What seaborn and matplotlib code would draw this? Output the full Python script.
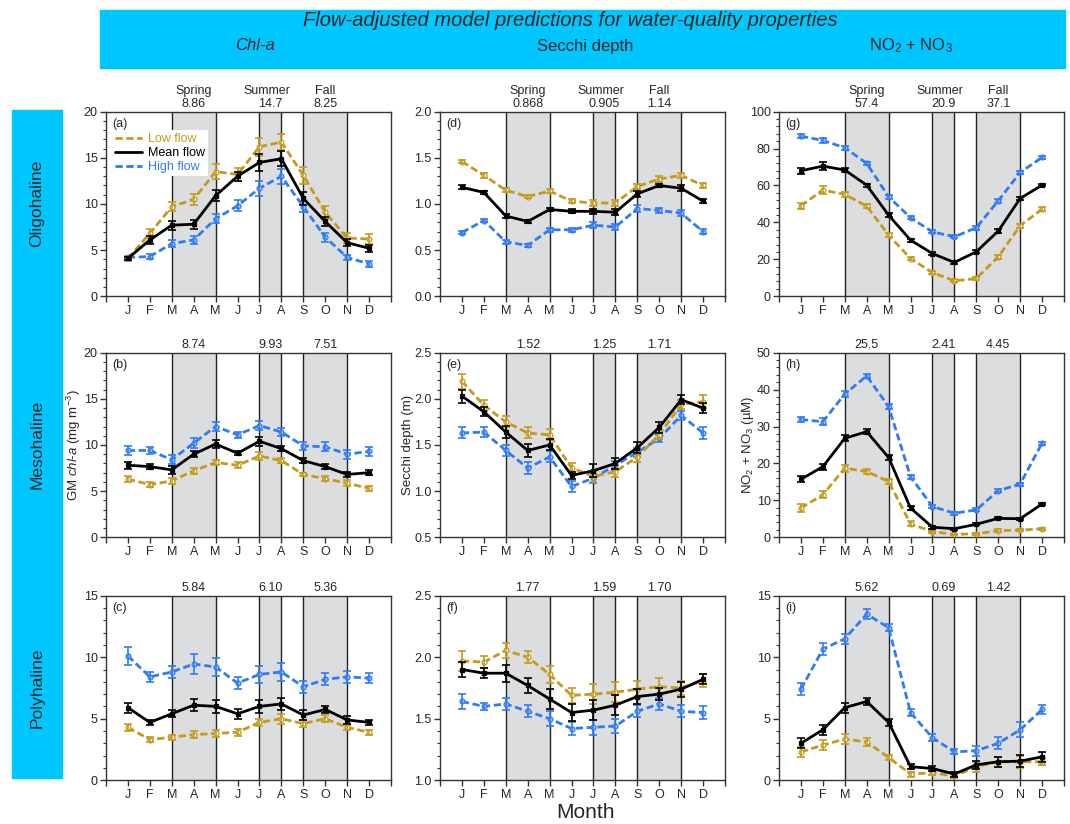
"""
Flow-adjusted model predictions for water-quality properties.
3x3 panels: Chl-a / Secchi depth / NO2+NO3 by salinity zone, monthly low/mean/high flow.
"""

import numpy as np
import matplotlib
matplotlib.use("Agg")
import matplotlib.pyplot as plt
import seaborn as sns
from matplotlib.lines import Line2D
from matplotlib.patches import Rectangle
from matplotlib.ticker import MultipleLocator, FormatStrFormatter, FixedLocator

sns.set_style("ticks")
plt.rcParams['font.family'] = ['Liberation Sans', 'DejaVu Sans']
plt.rcParams['mathtext.fontset'] = 'custom'
plt.rcParams['mathtext.rm'] = 'Liberation Sans'
plt.rcParams['mathtext.it'] = 'Liberation Sans:italic'

MONTHS = np.arange(1, 13)
MONTH_LABELS = ['J', 'F', 'M', 'A', 'M', 'J', 'J', 'A', 'S', 'O', 'N', 'D']
SEASONS = ['Spring', 'Summer', 'Fall']
ZONES = ['Oligohaline', 'Mesohaline', 'Polyhaline']

# ---- (a) Chl-a, oligohaline
a_low = [4.1, 6.8, 9.7, 10.5, 13.5, 13.2, 16.2, 16.7, 13.1, 9.1, 6.3, 6.2]
a_mean = [4.1, 6.1, 7.7, 7.8, 10.9, 13.0, 14.5, 14.9, 10.6, 8.1, 5.8, 5.2]
a_high = [4.2, 4.3, 5.7, 6.1, 8.4, 9.8, 11.7, 13.0, 9.7, 6.4, 4.2, 3.5]
a_low_err = [0.3, 0.5, 0.5, 0.6, 0.8, 0.7, 1.0, 0.9, 0.9, 0.7, 0.5, 0.5]
a_mean_err = [0.2, 0.4, 0.5, 0.5, 0.6, 0.5, 0.9, 0.8, 0.7, 0.5, 0.4, 0.4]
a_high_err = [0.2, 0.3, 0.4, 0.4, 0.5, 0.6, 0.8, 0.8, 0.6, 0.5, 0.3, 0.3]
a_season = ['8.86', '14.7', '8.25']

# ---- (b) Chl-a, mesohaline
b_low = [6.3, 5.7, 6.1, 7.2, 8.1, 7.8, 8.8, 8.3, 6.8, 6.35, 5.85, 5.3]
b_mean = [7.8, 7.65, 7.3, 9.0, 10.1, 9.1, 10.4, 9.6, 8.3, 7.65, 6.8, 7.0]
b_high = [9.4, 9.4, 8.4, 10.2, 12.0, 11.1, 12.1, 11.4, 9.9, 9.8, 9.0, 9.3]
b_low_err = [0.3, 0.3, 0.3, 0.3, 0.3, 0.3, 0.4, 0.3, 0.2, 0.3, 0.3, 0.3]
b_mean_err = [0.4, 0.3, 0.4, 0.3, 0.4, 0.2, 0.5, 0.3, 0.3, 0.3, 0.3, 0.3]
b_high_err = [0.5, 0.4, 0.5, 0.5, 0.5, 0.3, 0.5, 0.4, 0.4, 0.5, 0.5, 0.5]
b_season = ['8.74', '9.93', '7.51']

# ---- (c) Chl-a, polyhaline
c_low = [4.3, 3.3, 3.5, 3.7, 3.8, 3.9, 4.7, 5.0, 4.6, 5.0, 4.3, 3.9]
c_mean = [5.9, 4.7, 5.4, 6.1, 6.0, 5.4, 6.0, 6.2, 5.3, 5.75, 4.9, 4.7]
c_high = [10.1, 8.4, 8.8, 9.45, 9.2, 7.9, 8.6, 8.8, 7.6, 8.2, 8.4, 8.3]
c_low_err = [0.3, 0.2, 0.2, 0.3, 0.3, 0.3, 0.3, 0.4, 0.3, 0.3, 0.2, 0.2]
c_mean_err = [0.4, 0.2, 0.3, 0.5, 0.5, 0.4, 0.5, 0.5, 0.4, 0.3, 0.3, 0.2]
c_high_err = [0.7, 0.4, 0.5, 0.8, 0.7, 0.5, 0.7, 0.7, 0.5, 0.5, 0.5, 0.4]
c_season = ['5.84', '6.10', '5.36']

# ---- (d) Secchi, oligohaline
d_low = [1.46, 1.31, 1.15, 1.08, 1.14, 1.03, 1.01, 1.01, 1.19, 1.27, 1.31, 1.20]
d_mean = [1.18, 1.125, 0.87, 0.81, 0.94, 0.92, 0.92, 0.91, 1.11, 1.20, 1.17, 1.03]
d_high = [0.69, 0.82, 0.59, 0.55, 0.72, 0.72, 0.77, 0.75, 0.95, 0.93, 0.90, 0.70]
d_low_err = [0.02, 0.03, 0.02, 0.02, 0.02, 0.02, 0.03, 0.03, 0.03, 0.03, 0.03, 0.03]
d_mean_err = [0.02, 0.02, 0.02, 0.02, 0.02, 0.02, 0.03, 0.03, 0.03, 0.02, 0.03, 0.02]
d_high_err = [0.02, 0.02, 0.02, 0.02, 0.02, 0.02, 0.03, 0.03, 0.04, 0.03, 0.03, 0.03]
d_season = ['0.868', '0.905', '1.14']

# ---- (e) Secchi, mesohaline
e_low = [2.19, 1.93, 1.75, 1.63, 1.61, 1.25, 1.16, 1.21, 1.37, 1.61, 1.94, 1.97]
e_mean = [2.03, 1.86, 1.64, 1.44, 1.50, 1.17, 1.22, 1.30, 1.47, 1.69, 1.99, 1.90]
e_high = [1.63, 1.64, 1.44, 1.25, 1.37, 1.05, 1.14, 1.28, 1.42, 1.57, 1.82, 1.63]
e_low_err = [0.08, 0.06, 0.06, 0.06, 0.06, 0.05, 0.06, 0.06, 0.05, 0.05, 0.05, 0.07]
e_mean_err = [0.07, 0.05, 0.07, 0.07, 0.06, 0.04, 0.07, 0.06, 0.06, 0.06, 0.05, 0.05]
e_high_err = [0.06, 0.05, 0.06, 0.06, 0.06, 0.06, 0.05, 0.05, 0.05, 0.04, 0.05, 0.07]
e_season = ['1.52', '1.25', '1.71']

# ---- (f) Secchi, polyhaline
f_low = [1.97, 1.96, 2.055, 2.00, 1.86, 1.69, 1.70, 1.715, 1.74, 1.76, 1.75, 1.81]
f_mean = [1.90, 1.87, 1.87, 1.77, 1.66, 1.55, 1.57, 1.61, 1.68, 1.70, 1.74, 1.82]
f_high = [1.64, 1.60, 1.62, 1.56, 1.50, 1.42, 1.43, 1.44, 1.56, 1.62, 1.56, 1.55]
f_low_err = [0.08, 0.05, 0.06, 0.05, 0.07, 0.06, 0.08, 0.08, 0.07, 0.07, 0.06, 0.05]
f_mean_err = [0.06, 0.04, 0.07, 0.06, 0.08, 0.07, 0.08, 0.08, 0.06, 0.05, 0.06, 0.04]
f_high_err = [0.06, 0.03, 0.05, 0.05, 0.06, 0.05, 0.06, 0.06, 0.05, 0.05, 0.05, 0.05]
f_season = ['1.77', '1.59', '1.70']

# ---- (g) NO2+NO3, oligohaline
g_low = [49.0, 57.5, 55.2, 48.8, 33.1, 20.4, 12.8, 8.3, 9.6, 21.3, 38.2, 47.2]
g_mean = [68.0, 70.5, 68.4, 60.2, 43.9, 30.4, 23.1, 18.3, 24.1, 35.3, 53.0, 60.2]
g_high = [86.8, 84.4, 80.5, 72.0, 53.9, 42.5, 34.9, 32.2, 37.1, 51.7, 67.1, 75.2]
g_low_err = [1.5, 2.0, 1.2, 1.2, 1.2, 1.0, 1.0, 0.8, 0.8, 1.2, 1.2, 1.0]
g_mean_err = [1.5, 2.0, 1.2, 0.8, 1.2, 0.8, 0.8, 0.8, 0.8, 1.0, 0.8, 0.6]
g_high_err = [1.0, 1.5, 1.0, 1.0, 1.2, 0.8, 0.8, 0.8, 1.0, 1.2, 1.0, 0.8]
g_season = ['57.4', '20.9', '37.1']

# ---- (h) NO2+NO3, mesohaline
h_low = [7.9, 11.5, 18.7, 17.8, 15.1, 3.6, 1.5, 0.8, 0.9, 1.8, 1.9, 2.3]
h_mean = [15.7, 19.1, 26.8, 28.6, 21.6, 7.9, 2.7, 2.3, 3.5, 5.1, 5.0, 9.0]
h_high = [31.9, 31.3, 38.8, 43.7, 35.4, 16.4, 8.3, 6.5, 7.4, 12.6, 14.4, 25.5]
h_low_err = [1.0, 1.0, 1.0, 0.8, 0.8, 0.7, 0.3, 0.2, 0.2, 0.3, 0.3, 0.3]
h_mean_err = [0.8, 0.8, 0.8, 0.6, 0.6, 0.5, 0.4, 0.3, 0.3, 0.3, 0.3, 0.4]
h_high_err = [0.8, 0.9, 0.7, 0.6, 0.6, 0.5, 0.4, 0.4, 0.4, 0.4, 0.4, 0.4]
h_season = ['25.5', '2.41', '4.45']

# ---- (i) NO2+NO3, polyhaline
i_low = [2.3, 2.85, 3.35, 3.1, 1.85, 0.5, 0.6, 0.35, 1.1, 1.5, 1.5, 1.5]
i_mean = [3.0, 4.1, 5.9, 6.4, 4.7, 1.1, 0.95, 0.5, 1.25, 1.5, 1.55, 1.9]
i_high = [7.4, 10.65, 11.5, 13.5, 12.4, 5.5, 3.45, 2.3, 2.4, 3.0, 4.1, 5.75]
i_low_err = [0.4, 0.4, 0.4, 0.3, 0.2, 0.2, 0.2, 0.2, 0.4, 0.4, 0.5, 0.3]
i_mean_err = [0.4, 0.4, 0.4, 0.3, 0.3, 0.2, 0.2, 0.2, 0.3, 0.4, 0.5, 0.4]
i_high_err = [0.5, 0.5, 0.4, 0.4, 0.3, 0.3, 0.3, 0.2, 0.4, 0.5, 0.6, 0.4]
i_season = ['5.62', '0.69', '1.42']

GOLD = '#C49A1C'
BLUE = '#2F7BF5'
CYAN = '#00C6FF'
SHADE = '#DCDDDE'

FIG_W, FIG_H = 1070, 824


def frac_box(left, top, width, height):
    return [left / FIG_W, 1 - (top + height) / FIG_H, width / FIG_W, height / FIG_H]


def draw_panel(ax, letter, low, mean, high, low_err, mean_err, high_err, season,
               ylim, major, fmt, names=False):
    # season shading and boundaries
    for x0, x1 in [(3, 5), (7, 8), (9, 11)]:
        ax.axvspan(x0, x1, color=SHADE, lw=0, zorder=0)
    for xv in [3, 5, 7, 8, 9, 11]:
        ax.axvline(xv, color='#222222', lw=1.0, zorder=1)

    series = [
        (high, high_err, BLUE, (0, (2.6, 1.3)), 'o', '#9CC3FF', BLUE, 3),
        (low, low_err, GOLD, (0, (2.6, 1.3)), 'o', 'white', GOLD, 4),
        (mean, mean_err, 'black', '-', 's', 'black', 'black', 5),
    ]
    for vals, err, col, ls, mk, mfc, mec, z in series:
        sns.lineplot(x=MONTHS, y=vals, ax=ax, color=col, lw=2.0, linestyle=ls,
                     marker=mk, markersize=3.5, markerfacecolor=mfc,
                     markeredgecolor=mec, markeredgewidth=0.9, zorder=z)
        ax.errorbar(MONTHS, vals, yerr=err, fmt='none', ecolor=col, elinewidth=1.2,
                    capsize=2.6, capthick=1.2, zorder=z)

    ax.set_xlim(0, 13)
    ax.set_ylim(*ylim)
    ax.xaxis.set_major_locator(FixedLocator(range(0, 14)))
    ax.set_xticklabels([''] + MONTH_LABELS + [''])
    ax.yaxis.set_major_locator(MultipleLocator(major))
    ax.yaxis.set_minor_locator(MultipleLocator(major / 5))
    ax.yaxis.set_major_formatter(FormatStrFormatter(fmt))
    ax.tick_params(axis='both', which='major', direction='out', length=4, width=1,
                   labelsize=9, pad=2, color='#333333')
    ax.tick_params(axis='y', which='minor', direction='out', length=2.5, width=0.8,
                   color='#333333')
    ax.tick_params(axis='x', which='minor', bottom=False)
    for sp in ax.spines.values():
        sp.set_visible(True)
        sp.set_linewidth(1.0)
        sp.set_color('#333333')
    ax.set_xlabel('')
    ax.set_ylabel('')

    ax.text(0.022, 0.965, '(%s)' % letter, transform=ax.transAxes, ha='left', va='top',
            fontsize=9)

    for xpos, val in zip([4, 7.5, 10], season):
        ax.annotate(val, xy=(xpos, 1), xycoords=('data', 'axes fraction'),
                    xytext=(0, 3.1), textcoords='offset points', ha='center',
                    va='baseline', fontsize=9)
    if names:
        for xpos, name in zip([4, 7.35, 10], SEASONS):
            ax.annotate(name, xy=(xpos, 1), xycoords=('data', 'axes fraction'),
                        xytext=(0, 12.7), textcoords='offset points', ha='center',
                        va='baseline', fontsize=9)


fig = plt.figure(figsize=(10.7, 8.24), dpi=100)

# header and row-label bands
fig.patches.append(Rectangle((100 / FIG_W, 1 - 68 / FIG_H), 965 / FIG_W, 58 / FIG_H,
                             transform=fig.transFigure, color=CYAN, zorder=0))
fig.patches.append(Rectangle((12 / FIG_W, 1 - 778 / FIG_H), 50 / FIG_W, 668 / FIG_H,
                             transform=fig.transFigure, color=CYAN, zorder=0))
fig.text(0.533, 1 - 21 / FIG_H, 'Flow-adjusted model predictions for water-quality properties',
         ha='center', va='center', fontsize=14.5, style='italic')
fig.text(0.238, 1 - 46 / FIG_H, 'Chl-a', ha='center', va='center', fontsize=12,
         style='italic')
fig.text(0.547, 1 - 46 / FIG_H, 'Secchi depth', ha='center', va='center', fontsize=12)
fig.text(0.851, 1 - 46 / FIG_H, 'NO$_2$ + NO$_3$', ha='center', va='center', fontsize=12)

lefts = [106, 440, 779]
tops = [111.7, 352.7, 595.7]
for r, (zone, top) in enumerate(zip(ZONES, tops)):
    fig.text(37 / FIG_W, 1 - (top + 92) / FIG_H, zone, rotation=90, ha='center',
             va='center', fontsize=12.5)

panels = [
    # column 1: chl-a
    ('a', a_low, a_mean, a_high, a_low_err, a_mean_err, a_high_err, a_season, (0, 20), 5, '%d'),
    ('b', b_low, b_mean, b_high, b_low_err, b_mean_err, b_high_err, b_season, (0, 20), 5, '%d'),
    ('c', c_low, c_mean, c_high, c_low_err, c_mean_err, c_high_err, c_season, (0, 15), 5, '%d'),
    # column 2: secchi
    ('d', d_low, d_mean, d_high, d_low_err, d_mean_err, d_high_err, d_season, (0, 2.0), 0.5, '%.1f'),
    ('e', e_low, e_mean, e_high, e_low_err, e_mean_err, e_high_err, e_season, (0.5, 2.5), 0.5, '%.1f'),
    ('f', f_low, f_mean, f_high, f_low_err, f_mean_err, f_high_err, f_season, (1.0, 2.5), 0.5, '%.1f'),
    # column 3: NO2+NO3
    ('g', g_low, g_mean, g_high, g_low_err, g_mean_err, g_high_err, g_season, (0, 100), 20, '%d'),
    ('h', h_low, h_mean, h_high, h_low_err, h_mean_err, h_high_err, h_season, (0, 50), 10, '%d'),
    ('i', i_low, i_mean, i_high, i_low_err, i_mean_err, i_high_err, i_season, (0, 15), 5, '%d'),
]
ylabels = ['GM $\\mathit{chl}$-$\\mathit{a}$ (mg m$^{-3}$)', 'Secchi depth (m)',
           'NO$_2$ + NO$_3$ (\u00b5M)']

axes = {}
for k, p in enumerate(panels):
    col, row = divmod(k, 3)
    ax = fig.add_axes(frac_box(lefts[col], tops[row], 285, 184.5))
    draw_panel(ax, *p, names=(row == 0))
    if row == 1:
        ax.set_ylabel(ylabels[col], fontsize=9.5, labelpad=0.5)
    axes[p[0]] = ax

# legend in panel (a)
handles = [
    Line2D([], [], color=GOLD, lw=2.0, linestyle=(0, (2.6, 1.3))),
    Line2D([], [], color='black', lw=2.0),
    Line2D([], [], color=BLUE, lw=2.0, linestyle=(0, (2.6, 1.3))),
]
leg = axes['a'].legend(handles, ['Low flow', 'Mean flow', 'High flow'], loc='upper left',
                       bbox_to_anchor=(0.022, 0.9), borderaxespad=0, fontsize=9,
                       frameon=True, facecolor='white', edgecolor='none', framealpha=1,
                       fancybox=False, borderpad=0.25, handlelength=2.1,
                       handletextpad=0.5, labelspacing=0.15)
for txt, col in zip(leg.get_texts(), [GOLD, 'black', BLUE]):
    txt.set_color(col)
leg.set_zorder(6)

fig.text(0.547, 1 - 813 / FIG_H, 'Month', ha='center', va='center', fontsize=15)

fig.savefig('out.png', dpi=100)
